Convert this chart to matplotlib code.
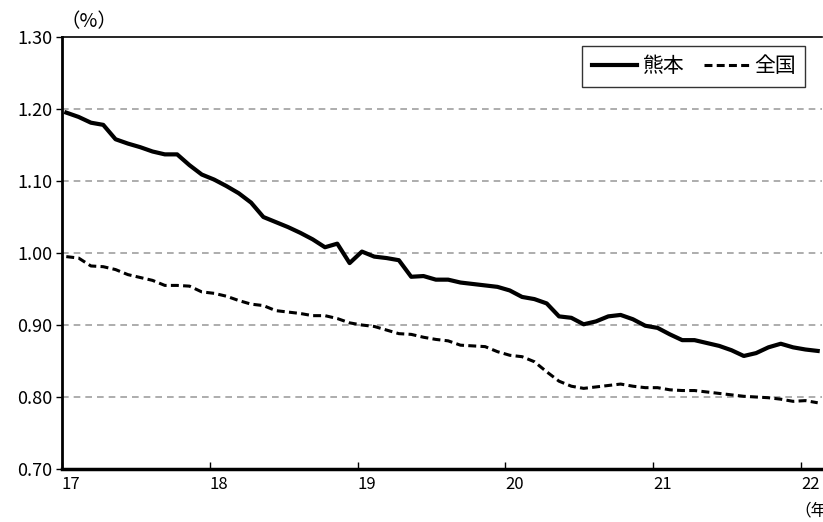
import matplotlib.pyplot as plt
from matplotlib.ticker import FixedLocator

plt.rcParams['font.family'] = ['Noto Sans CJK JP', 'DejaVu Sans']

# 月次データ（2017年1月〜2022年2月）
kumamoto = [1.195, 1.189, 1.181, 1.178, 1.158, 1.152, 1.147, 1.141, 1.137, 1.137,
            1.122, 1.109, 1.102, 1.093, 1.083, 1.070, 1.050, 1.043, 1.036, 1.028,
            1.019, 1.008, 1.013, 0.986, 1.002, 0.995, 0.993, 0.990, 0.967, 0.968,
            0.963, 0.963, 0.959, 0.957, 0.955, 0.953, 0.948, 0.939, 0.936, 0.930,
            0.912, 0.910, 0.901, 0.905, 0.912, 0.914, 0.908, 0.899, 0.896, 0.887,
            0.879, 0.879, 0.875, 0.871, 0.865, 0.857, 0.861, 0.869, 0.874, 0.869,
            0.866, 0.864]
zenkoku = [0.995, 0.993, 0.982, 0.981, 0.977, 0.970, 0.966, 0.962, 0.955, 0.955,
           0.954, 0.946, 0.944, 0.940, 0.934, 0.929, 0.927, 0.920, 0.918, 0.916,
           0.913, 0.913, 0.909, 0.903, 0.900, 0.898, 0.893, 0.888, 0.887, 0.883,
           0.880, 0.878, 0.872, 0.871, 0.870, 0.863, 0.858, 0.856, 0.849, 0.835,
           0.822, 0.815, 0.812, 0.814, 0.816, 0.818, 0.815, 0.813, 0.813, 0.810,
           0.809, 0.809, 0.807, 0.805, 0.803, 0.801, 0.800, 0.799, 0.797, 0.794,
           0.795, 0.792]
year_labels = ['17', '18', '19', '20', '21', '22']
y_ticks = [0.70, 0.80, 0.90, 1.00, 1.10, 1.20, 1.30]

months = [i + 0.35 for i in range(len(kumamoto))]

fig = plt.figure(figsize=(8.23, 5.22), dpi=100)
ax = fig.add_axes([0.0753, 0.1015, 0.9235, 0.8276])

# グリッド線
for v in y_ticks[1:-1]:
    ax.axhline(v, color='#a0a0a0', lw=1.2, ls=(0, (4, 3)), zorder=1)

ax.plot(months, kumamoto, color='black', lw=3.0, label='熊本',
        solid_joinstyle='round', zorder=3)
ax.plot(months, zenkoku, color='black', lw=2.2, ls=(0, (2.6, 1.4)),
        label='全国', zorder=3)

ax.set_xlim(0, 61.7)
ax.set_ylim(0.70, 1.30)
ax.xaxis.set_major_locator(FixedLocator([12 * k for k in range(len(year_labels))]))
ax.set_xticklabels(year_labels, fontsize=12)
ax.set_yticks(y_ticks)
ax.set_yticklabels([f'{v:.2f}' for v in y_ticks], fontsize=13)
ax.tick_params(axis='x', direction='in', length=5, width=1, pad=5)
ax.tick_params(axis='y', direction='out', length=4, width=1, pad=3)
for lbl in ax.get_xticklabels():
    lbl.set_horizontalalignment('left')

ax.spines['right'].set_visible(False)
ax.spines['left'].set_linewidth(2)
ax.spines['bottom'].set_linewidth(2.5)
ax.spines['top'].set_linewidth(1.2)

leg = ax.legend(loc='upper right', bbox_to_anchor=(0.978, 0.979), ncol=2,
                fontsize=15, frameon=True, fancybox=False, handlelength=2.2,
                columnspacing=1.0, handletextpad=0.2, borderpad=0.45,
                borderaxespad=0)
leg.get_frame().set_edgecolor('black')
leg.get_frame().set_linewidth(1.0)

fig.text(0.074, 0.958, '（%）', fontsize=14, ha='left', va='center')
fig.text(0.965, 0.022, '（年）', fontsize=12, ha='left', va='center')

fig.savefig('out.png', dpi=100)
